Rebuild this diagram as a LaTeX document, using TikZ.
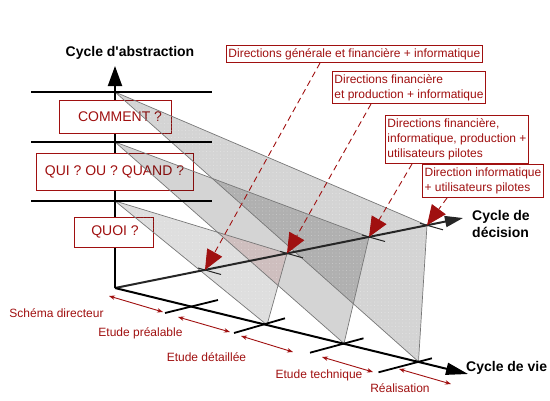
\documentclass[tikz,border=0pt]{standalone}
\usepackage{fontspec}
\setmainfont{Liberation Sans}
\usetikzlibrary{arrows.meta,calc,patterns}
\definecolor{dred}{RGB}{160,16,16}
\definecolor{edgegray}{RGB}{120,120,120}
\definecolor{pinkov}{RGB}{206,190,190}
\pgfdeclarepatternformonly{wdots}{\pgfpoint{-1pt}{-1pt}}{\pgfpoint{1pt}{1pt}}{\pgfpoint{3.5pt}{3.5pt}}{%
  \pgfpathcircle{\pgfpoint{0pt}{0pt}}{0.45pt}\pgfusepath{fill}}
\begin{document}
\begin{tikzpicture}[x=1pt,y=-1pt,
  axisline/.style={line width=2pt, black},
  tickline/.style={line width=1.8pt, black},
  dtick/.style={line width=1pt, black!85},
  trifill/.style={fill=black, fill opacity=0.17},
  tridots/.style={pattern=wdots, pattern color=white, fill opacity=0.45},
  triedge/.style={draw=edgegray, line width=0.7pt, line join=round},
  qbox/.style={draw=dred, fill=white, text=dred, line width=0.9pt, inner sep=0pt, font=\fontsize{14}{16}\selectfont},
  dbox/.style={draw=dred, fill=white, text=dred, line width=0.9pt, inner xsep=2pt, inner ysep=0pt, font=\fontsize{12}{15}\selectfont, align=left, anchor=north west},
  phaselbl/.style={text=dred, font=\fontsize{12}{14}\selectfont, inner sep=0pt},
  boldlbl/.style={font=\fontsize{14}{17}\selectfont\bfseries, inner sep=0pt, align=left},
  dasharrow/.style={draw=dred, line width=0.9pt, dash pattern=on 6pt off 4pt, -{Triangle[length=20pt,width=17pt]}},
  phasearrow/.style={draw=dred, line width=0.9pt, {Stealth[length=6pt,width=4.5pt]}-{Stealth[length=6pt,width=4.5pt]}},
]
\useasboundingbox (0,0) rectangle (550,400);

% key points
\coordinate (O) at (115,288);
\coordinate (Vtip) at (115,66);
\coordinate (Dtip) at (463,218);
\coordinate (Ltip) at (468,374);
\coordinate (A1) at (115,201);
\coordinate (A2) at (115,142);
\coordinate (A3) at (115,92);
\coordinate (D1) at (205,270);
\coordinate (D2) at (287,253.4);
\coordinate (D3) at (369,237);
\coordinate (D4) at (427,225.3);
\coordinate (L1) at (192,306.7);
\coordinate (L2) at (267,325);
\coordinate (L3) at (344,343.5);
\coordinate (L4) at (418.5,361.7);

% abstraction axis
\draw[axisline,-{Triangle[length=20pt,width=14pt]}] (O) -- (Vtip);

% question boxes
\node[qbox, minimum width=112pt, minimum height=33pt] (qcomment) at (115,116.5) {\hspace*{10pt}COMMENT ?};
\node[qbox, minimum width=157pt, minimum height=37pt] (qqui) at (114.5,171.5) {QUI ? OU ? QUAND ?};
\node[qbox, minimum width=79pt, minimum height=30pt] (qquoi) at (113.5,232) {\hspace*{3pt}QUOI ?};

% planes
\fill[trifill] (A3) -- (D4) -- (L4) -- cycle;
\fill[trifill] (A2) -- (D3) -- (L3) -- cycle;
\fill[trifill, fill opacity=0.13] (A1) -- (D2) -- (L2) -- cycle;
\begin{scope}
  \clip (A1) -- (D2) -- (L2) -- cycle;
  \fill[pinkov] (A2) -- (D3) -- (L3) -- cycle;
\end{scope}
\fill[tridots] (A3) -- (D4) -- (L4) -- cycle;
\fill[tridots] (A1) -- (D2) -- (L2) -- cycle;
\draw[triedge] (A3) -- (D4) -- (L4) -- cycle;
\draw[triedge] (A2) -- (D3) -- (L3) -- cycle;
\draw[triedge] (A1) -- (D2) -- (L2) -- cycle;

% abstraction levels
\draw[axisline] ($(A3)+(-84,0)$) -- ($(A3)+(97,0)$);
\draw[axisline] ($(A2)+(-84,0)$) -- ($(A2)+(97,0)$);
\draw[axisline] ($(A1)+(-84,0)$) -- ($(A1)+(97,0)$);

% decision axis
\draw[line width=2pt, black!85, -{Triangle[length=18pt,width=11pt]}] (O) -- (Dtip);
\foreach \d in {D1,D2,D3,D4}{
  \draw[dtick] ($(\d)+(-7,-2)$) -- ($(\d)+(16,4.5)$);
}

% life-cycle axis
\draw[axisline, -{Triangle[length=22pt,width=12pt]}] (O) -- (Ltip);
\draw[tickline] ($(L1)+(-27,6.3)$) -- ($(L1)+(26,-6.7)$);
\draw[tickline] ($(L2)+(-33,8)$) -- ($(L2)+(18,-6.7)$);
\draw[tickline] ($(L3)+(-34,9.2)$) -- ($(L3)+(19.5,-5.2)$);
\draw[tickline] ($(L4)+(-40,10.6)$) -- ($(L4)+(13.4,-3.4)$);

% axis labels
\node[boldlbl] (labs) at (130,53) {Cycle d\textquotesingle abstraction};
\node[boldlbl, anchor=west] (ldec) at (472,223.5) {Cycle de\\d\'ecision};
\node[boldlbl, anchor=west] (lvie) at (466,368) {Cycle de vie};

% decision boxes
\node[dbox, minimum width=254pt, minimum height=17pt, align=center] (b1) at (226,45) {Directions générale et financière + informatique};
\node[dbox, minimum width=152pt, minimum height=32pt] (b2) at (332,71) {Directions financière\\et production + informatique};
\node[dbox, minimum width=143pt, minimum height=48pt] (b3) at (385,115) {Directions financière,\\informatique, production +\\utilisateurs pilotes};
\node[dbox, minimum width=121pt, minimum height=33pt] (b4) at (422,164) {Direction informatique\\+ utilisateurs pilotes};

\coordinate (s1) at (320,63);
\coordinate (s2) at (371,104);
\coordinate (s3) at (412,164);
\coordinate (s4) at (447,198);
\draw[dasharrow] (s1) -- (D1);
\draw[dasharrow] (s2) -- (D2);
\draw[dasharrow] (s3) -- (D3);
\draw[dasharrow] (s4) -- (D4);

% phases
\coordinate (p1a) at (109,296); \coordinate (p1b) at (163,312);
\coordinate (p2a) at (178,317); \coordinate (p2b) at (230,332);
\coordinate (p3a) at (241,336); \coordinate (p3b) at (293,352);
\coordinate (p4a) at (322,357); \coordinate (p4b) at (373,372);
\coordinate (p5a) at (399,369); \coordinate (p5b) at (451,384);
\draw[phasearrow] (p1a) -- (p1b);
\draw[phasearrow] (p2a) -- (p2b);
\draw[phasearrow] (p3a) -- (p3b);
\draw[phasearrow] (p4a) -- (p4b);
\draw[phasearrow] (p5a) -- (p5b);

\node[phaselbl] (ph1) at (56.5,313) {Schéma directeur};
\node[phaselbl] (ph2) at (140.5,333) {Etude préalable};
\node[phaselbl] (ph3) at (206.5,357) {Etude détaillée};
\node[phaselbl] (ph4) at (319,375) {Etude technique};
\node[phaselbl] (ph5) at (400,388) {Réalisation};
\end{tikzpicture}
\end{document}
